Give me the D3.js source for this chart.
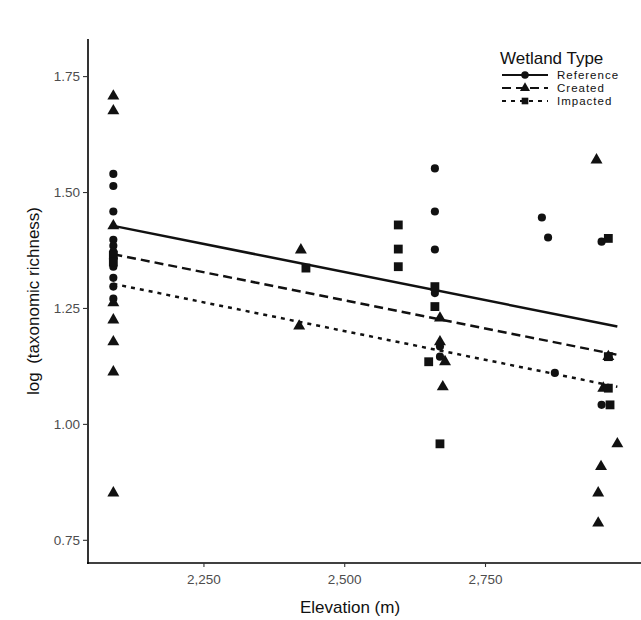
<!DOCTYPE html>
<html>
<head>
<meta charset="utf-8">
<script src="https://cdn.jsdelivr.net/npm/d3@7"></script>
<style>
  html, body { margin: 0; padding: 0; background: #fff; }
  svg { display: block; font-family: "Liberation Sans", Arial, sans-serif; }
</style>
</head>
<body>
<svg id="chart" width="641" height="620"></svg>
<script>
// Elevation (m) and log taxonomic richness by wetland type
const refElev = [2090, 2090, 2090, 2090, 2090, 2090, 2090, 2090, 2090, 2090, 2090,
                 2661, 2661, 2661, 2661, 2670, 2670, 2851, 2862, 2874, 2957, 2957];
const refVal  = [1.539, 1.513, 1.458, 1.397, 1.384, 1.371, 1.358, 1.339, 1.315, 1.296, 1.27,
                 1.551, 1.458, 1.376, 1.282, 1.167, 1.145, 1.445, 1.402, 1.11, 1.393, 1.041];

const createdElev = [2090, 2090, 2090, 2090, 2090, 2090, 2090, 2090,
                     2423, 2420, 2670, 2670, 2679, 2675, 2948, 2969, 2960, 2985, 2956, 2951, 2951];
const createdVal  = [1.707, 1.675, 1.427, 1.261, 1.224, 1.177, 1.112, 0.851,
                     1.375, 1.211, 1.228, 1.177, 1.134, 1.080, 1.569, 1.145, 1.077, 0.957, 0.908, 0.851, 0.786];

const impactedElev = [2090, 2090, 2432, 2596, 2596, 2596, 2661, 2661, 2650, 2670, 2969, 2969, 2969, 2972];
const impactedVal  = [1.364, 1.349, 1.336, 1.429, 1.377, 1.339, 1.296, 1.253, 1.134, 0.957, 1.40, 1.145, 1.077, 1.041];

// Fitted regression lines (start and end of the elevation range)
const fitElev     = [2090, 2985];
const fitRef      = [1.427, 1.210];
const fitCreated  = [1.366, 1.149];
const fitImpacted = [1.302, 1.080];

const xTicks = [2250, 2500, 2750];
const yTicks = [0.75, 1.00, 1.25, 1.50, 1.75];
const groups = ["Reference", "Created", "Impacted"];

const svg = d3.select("#chart");
const plotLeft = 88, plotRight = 641, plotTop = 39, plotBottom = 563;

const x = d3.scaleLinear().domain([2045, 3027]).range([plotLeft, plotRight]);
const y = d3.scaleLinear().domain([0.70, 1.83]).range([plotBottom, plotTop]);

// axes
const xAxis = svg.append("g").attr("transform", `translate(0,${plotBottom})`)
  .call(d3.axisBottom(x).tickValues(xTicks).tickSize(4).tickPadding(7).tickFormat(d3.format(",")));
const yAxis = svg.append("g").attr("transform", `translate(${plotLeft},0)`)
  .call(d3.axisLeft(y).tickValues(yTicks).tickSize(5).tickPadding(3).tickFormat(d3.format(".2f")));
[xAxis, yAxis].forEach(g => {
  g.select(".domain").attr("stroke", "#000").attr("stroke-width", 1.6);
  g.selectAll(".tick line").attr("stroke", "#333").attr("stroke-width", 1.1);
  g.selectAll(".tick text").attr("fill", "#4d4d4d").style("font-size", "13.5px")
    .style("font-family", "'Liberation Sans', Arial, sans-serif");
});
// plain axis lines without end caps
xAxis.select(".domain").attr("d", `M${plotLeft - 1},0H${plotRight}`);
yAxis.select(".domain").attr("d", `M0,${plotTop}V${plotBottom + 1}`);

// axis titles
svg.append("text").attr("x", 350).attr("y", 613).attr("text-anchor", "middle")
  .style("font-size", "17px").attr("fill", "#111").text("Elevation (m)");
svg.append("text").attr("transform", `translate(39,${(plotTop + plotBottom) / 2}) rotate(-90)`)
  .attr("text-anchor", "middle").style("font-size", "17px").attr("fill", "#111")
  .text("log\u2002(taxonomic richness)");

// regression lines
const dashes = { Reference: null, Created: "9,5", Impacted: "4,5" };
const fits = { Reference: fitRef, Created: fitCreated, Impacted: fitImpacted };
const line = d3.line().x(d => x(d[0])).y(d => y(d[1]));
groups.forEach(g => {
  svg.append("path")
    .datum(fitElev.map((e, i) => [e, fits[g][i]]))
    .attr("d", line).attr("fill", "none").attr("stroke", "#111")
    .attr("stroke-width", 2.5).attr("stroke-dasharray", dashes[g]);
});

// markers
const symbolTypes = { Reference: d3.symbolCircle, Created: d3.symbolTriangle, Impacted: d3.symbolSquare };
const symbolSizes = { Reference: 52, Created: 62, Impacted: 78 };
const sets = {
  Reference: [refElev, refVal],
  Created: [createdElev, createdVal],
  Impacted: [impactedElev, impactedVal]
};
groups.forEach(g => {
  const [ex, vy] = sets[g];
  svg.append("g").selectAll("path").data(ex.map((e, i) => [e, vy[i]])).join("path")
    .attr("d", d3.symbol().type(symbolTypes[g]).size(symbolSizes[g])())
    .attr("transform", d => `translate(${x(d[0])},${y(d[1])})`)
    .attr("fill", "#111");
});

// legend
const lg = svg.append("g").attr("transform", "translate(500,0)");
lg.append("text").attr("x", 0).attr("y", 64).style("font-size", "17px").attr("fill", "#111")
  .text("Wetland Type");
groups.forEach((g, i) => {
  const ry = 75 + i * 13;
  lg.append("line").attr("x1", 2).attr("x2", 48).attr("y1", ry).attr("y2", ry)
    .attr("stroke", "#111").attr("stroke-width", 2).attr("stroke-dasharray", dashes[g]);
  lg.append("path").attr("d", d3.symbol().type(symbolTypes[g]).size(44)())
    .attr("transform", `translate(25,${ry})`).attr("fill", "#111");
  lg.append("text").attr("x", 57).attr("y", ry + 4.2).style("font-size", "11.5px")
    .style("letter-spacing", "1px").attr("fill", "#111")
    .text(g);
});
</script>
</body>
</html>
